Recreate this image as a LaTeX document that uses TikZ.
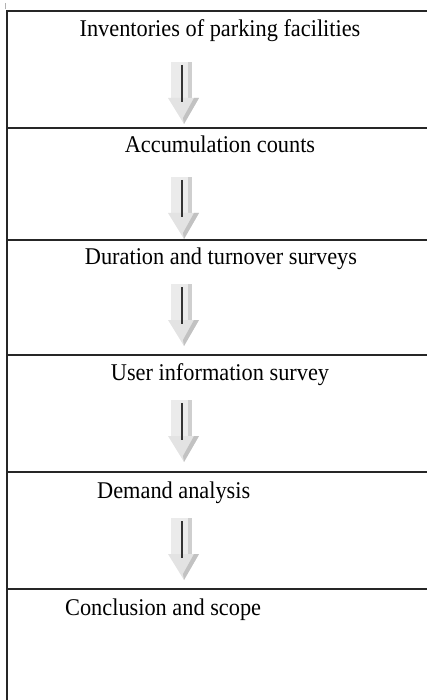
\documentclass[tikz,border=0pt]{standalone}
\usepackage{fontspec}
\setmainfont{Liberation Serif}[FakeStretch=0.93]
\begin{document}
\begin{tikzpicture}[x=1pt,y=-1pt,
  rule/.style={line width=1.3pt, black!85},
  label/.style={inner sep=0pt, font=\fontsize{24}{28}\selectfont},
  blockarrow/.pic={
    \fill[gray!16] (-11,0) rectangle (10,36);
    \fill[gray!38] (6,0) rectangle (10,36);
    \fill[gray!22] (-14,36) -- (17,36) -- (2,62) -- cycle;
    \fill[gray!48] (2,62) -- (17,36) -- (12,36) -- (1,56) -- cycle;
    \draw[line width=1.2pt, black!80] (0,3) -- (0,40);
  }]
\useasboundingbox (0,0) rectangle (427,700);
% frame
\draw[gray!60, line width=0.6pt] (5,3) -- (5,9);
\draw[rule] (7,700) -- (7,11) -- (427,11);
\foreach \yy in {128,240,355,472,589} \draw[rule] (7,\yy) -- (427,\yy);
% texts
\node[label, anchor=base] (t1) at (220,37) {Inventories of parking facilities};
\node[label, anchor=base] (t2) at (220,153) {Accumulation counts};
\node[label, anchor=base] (t3) at (221,264) {Duration and turnover surveys};
\node[label, anchor=base] (t4) at (220,380) {User information survey};
\node[label, anchor=base west] (t5) at (97,498) {Demand analysis};
\node[label, anchor=base west] (t6) at (65,615) {Conclusion and scope};
% arrows
\coordinate (a1) at (182,62);
\coordinate (a2) at (182,177);
\coordinate (a3) at (182,284);
\coordinate (a4) at (182,400);
\coordinate (a5) at (182,518);
\foreach \a in {a1,a2,a3,a4,a5} \pic at (\a) {blockarrow};
\end{tikzpicture}
\end{document}
